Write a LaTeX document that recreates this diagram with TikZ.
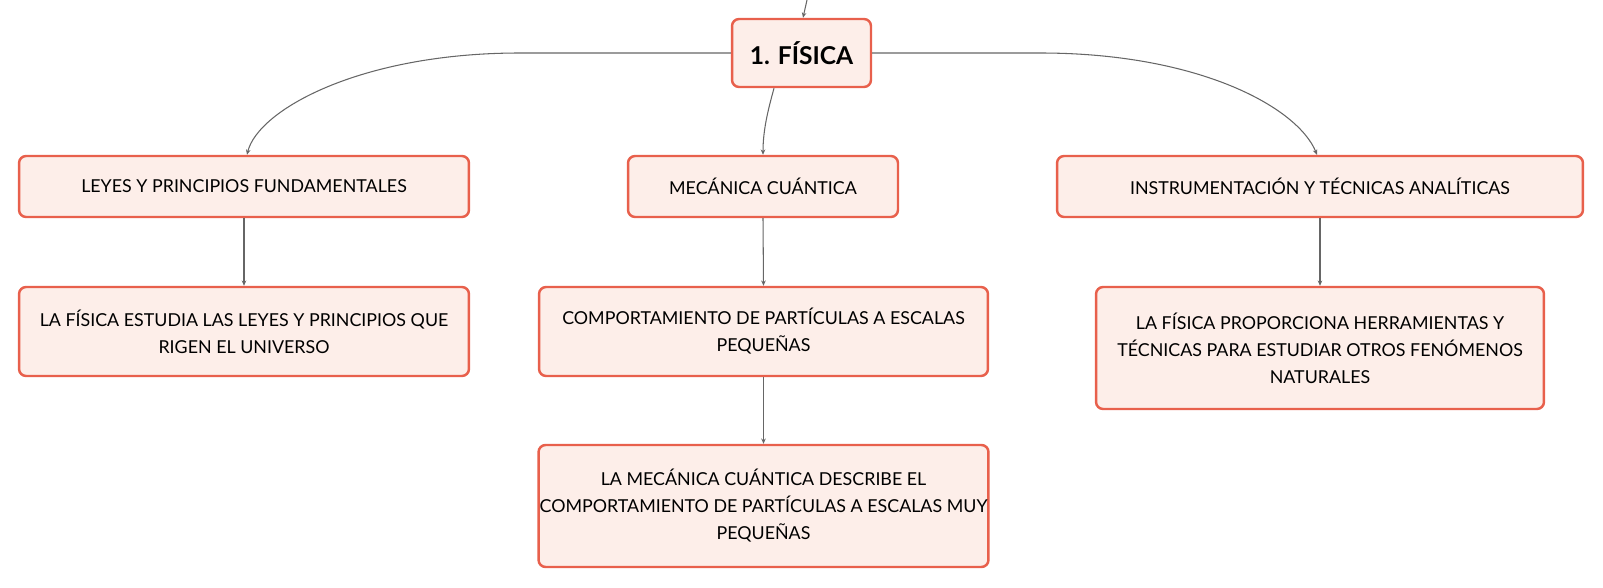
\documentclass[tikz,border=0pt]{standalone}
\usepackage{fontspec}
\setmainfont{Lato}
\usetikzlibrary{arrows.meta}
\definecolor{boxline}{HTML}{E8604C}
\definecolor{boxfill}{HTML}{FDEEE9}
\definecolor{linkgray}{HTML}{666666}
\tikzset{
  concept/.style={draw=boxline, fill=boxfill, line width=1.4pt, rounded corners=4pt,
    align=center, inner sep=0pt, font=\fontsize{10.15}{15.4}\selectfont},
  link/.style={draw=linkgray, line width=0.6pt, -{Stealth[length=3pt,width=2.6pt]}}
}
\begin{document}
\begin{tikzpicture}[x=0.02cm,y=-0.02cm]
\useasboundingbox (0,0) rectangle (1603,588);
\node [concept, minimum width=2.78cm, minimum height=1.36cm, font=\bfseries\fontsize{14}{16}\selectfont] (fisica) at (801.5,53) {1. FÍSICA};
\node [concept, minimum width=9cm, minimum height=1.22cm] (leyes) at (244,186.5) {LEYES Y PRINCIPIOS FUNDAMENTALES};
\node [concept, minimum width=5.4cm, minimum height=1.22cm] (mecanica) at (763,186.5) {MECÁNICA CUÁNTICA};
\node [concept, minimum width=10.52cm, minimum height=1.22cm] (instrum) at (1320,186.5) {INSTRUMENTACIÓN Y TÉCNICAS ANALÍTICAS};
\node [concept, minimum width=9cm, minimum height=1.78cm] (leyesdef) at (244,331.5) {LA FÍSICA ESTUDIA LAS LEYES Y PRINCIPIOS QUE\\RIGEN EL UNIVERSO};
\node [concept, minimum width=8.98cm, minimum height=1.78cm] (particulas) at (763.5,331.5) {COMPORTAMIENTO DE PARTÍCULAS A ESCALAS\\PEQUEÑAS};
\node [concept, minimum width=8.96cm, minimum height=2.44cm] (instrumdef) at (1320,348) {LA FÍSICA PROPORCIONA HERRAMIENTAS Y\\TÉCNICAS PARA ESTUDIAR OTROS FENÓMENOS\\NATURALES};
\node [concept, minimum width=9cm, minimum height=2.44cm] (mecanicadef) at (763.5,506) {LA MECÁNICA CUÁNTICA DESCRIBE EL\\COMPORTAMIENTO DE PARTÍCULAS A ESCALAS MUY\\PEQUEÑAS};
\coordinate (entrada) at (807,0);
\draw [link] (entrada) -- ([xshift=0.03cm]fisica.north);
\draw [link] (fisica.west) -- (520,53) .. controls (360,53) and (258,110) .. ([xshift=0.06cm]leyes.north);
\draw [link] (fisica.east) -- (1040,53) .. controls (1200,53) and (1298,108) .. ([xshift=-0.06cm]instrum.north);
\draw [link] ([xshift=-0.55cm]fisica.south) .. controls (768,110) and (763,130) .. (mecanica.north);
\draw [link] (leyes.south) -- (leyesdef.north);
\draw [link] (mecanica.south) -- (particulas.north);
\draw [link] (particulas.south) -- (mecanicadef.north);
\draw [link] (instrum.south) -- (instrumdef.north);
\end{tikzpicture}
\end{document}
